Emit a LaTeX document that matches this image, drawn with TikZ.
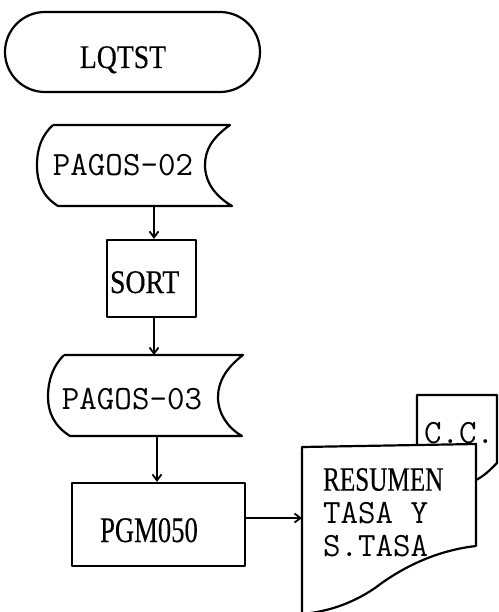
\documentclass[tikz,border=0pt]{standalone}
\usepackage{fontspec}
\setmainfont{Liberation Serif}
\newfontfamily\serf[FakeStretch=0.84,FakeBold=0.3]{Liberation Serif}
\newfontfamily\serfc[FakeStretch=0.74,FakeBold=0.3]{Liberation Serif}
\newcommand\monof{\ttfamily\addfontfeature{FakeBold=2.5}}
\usetikzlibrary{arrows.meta}
\begin{document}
\begin{tikzpicture}[x=1pt,y=-1pt, line width=2.2pt, line join=round,
  flow/.style={-{Straight Barb[length=6pt,width=9pt]}, line width=1.8pt},
  procbox/.style={draw, fill=white, inner sep=0pt},
  sertext/.style={font=\serf\fontsize{33}{34}\selectfont, inner sep=0pt},
  monotext/.style={font=\fontsize{34}{34}\selectfont\monof, inner sep=0pt}]
\useasboundingbox (0,0) rectangle (498,612);
% terminal
\node[draw, rounded corners=40pt, minimum width=255pt, minimum height=80pt, inner sep=0pt] (start) at (132.5,52) {};
\node[sertext, anchor=base] (startt) at (123,68) {LQTST};
% PAGOS-02 (stored data)
\draw (53,125) -- (230,125) .. controls (212,138) and (205,150) .. (205,165)
      .. controls (205,182) and (215,196) .. (232,206) -- (58,206)
      .. controls (42,196) and (37,182) .. (37,165)
      .. controls (37,148) and (42,135) .. (53,125);
\node[monotext, anchor=base] (p02) at (123,176) {PAGOS-02};
\coordinate (p02s) at (154,206);
% SORT
\node[procbox, minimum width=89pt, minimum height=77pt] (sort) at (151.5,278.5) {};
\node[sertext, anchor=base west] (sortt) at (109,293) {SORT};
\draw[flow] (p02s) -- (p02s |- sort.north);
% PAGOS-03
\draw (64,355) -- (243,355) .. controls (226,368) and (218,382) .. (218,397)
      .. controls (218,414) and (228,428) .. (242,436) -- (70,436)
      .. controls (54,426) and (48,412) .. (48,397)
      .. controls (48,380) and (53,366) .. (64,355);
\node[monotext, anchor=base] (p03) at (132,409) {PAGOS-03};
\coordinate (p03n) at (154,355);
\coordinate (p03s) at (157,436);
\draw[flow] (p03n |- sort.south) -- (p03n);
% PGM050
\node[procbox, minimum width=173pt, minimum height=83pt] (pgm) at (158.5,524.5) {};
\node[inner sep=0pt, anchor=base, font=\serfc\fontsize{36}{36}\selectfont] (pgmt) at (149,542) {PGM050};
\draw[flow] (p03s) -- (p03s |- pgm.north);
% back document C.C.
\draw[fill=white] (476,480) .. controls (484,476) and (490,470) .. (497,463) -- (497,395) -- (417,395) -- (417,450);
\node[monotext, anchor=base west] (cc) at (423,443) {C.C.};
% front document
\draw[fill=white] (302,620) -- (302,447) -- (476,444) -- (476,546)
      .. controls (440,550) and (405,565) .. (375,588)
      .. controls (350,605) and (325,612) .. (302,614);
\node[anchor=north west, inner sep=0pt, align=left, font=\fontsize{34}{33}\selectfont] (rep) at (322,467)
  {{\serfc RESUMEN}\\
   {\monof TASA Y}\\
   {\monof S.TASA}};
\coordinate (doc) at (302,518);
\draw[flow] (pgm.east |- doc) -- (doc);
\end{tikzpicture}
\end{document}
